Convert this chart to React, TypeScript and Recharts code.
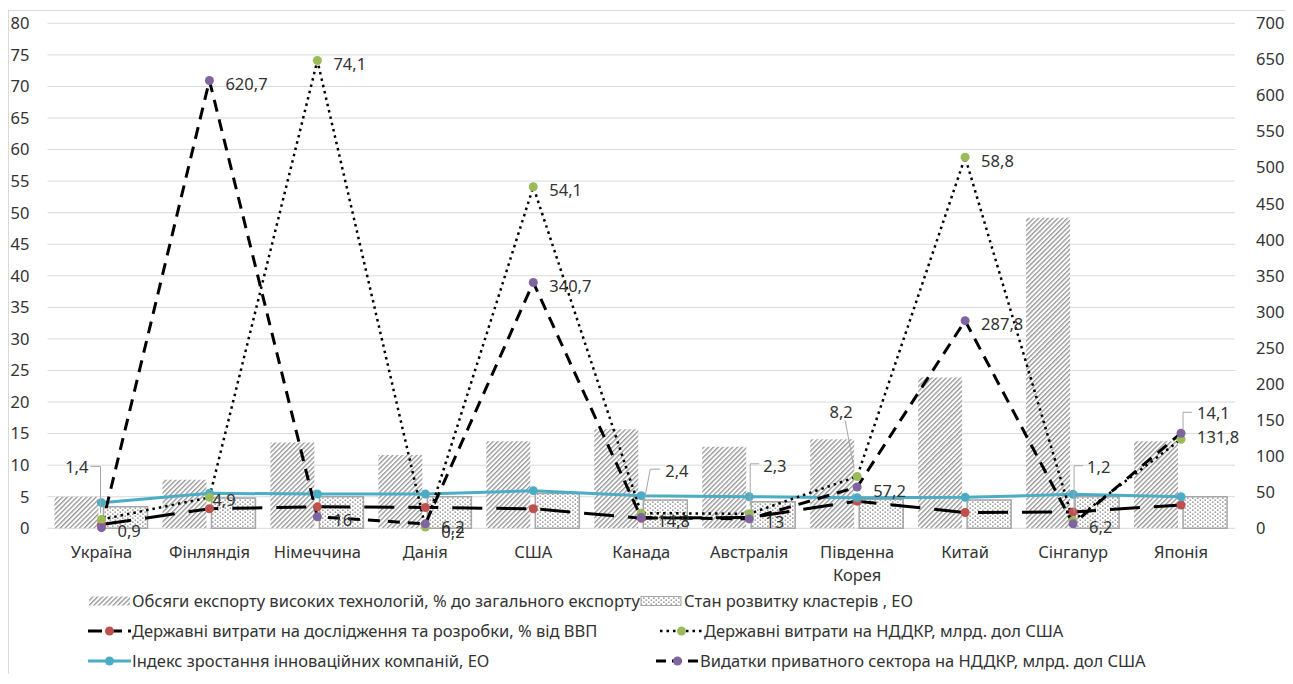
import React from 'react';
import { ComposedChart, Bar, Line, XAxis, YAxis, CartesianGrid, LabelList, Legend, Text } from 'recharts';

const countries = ['Україна', 'Фінляндія', 'Німеччина', 'Данія', 'США', 'Канада', 'Австралія', 'Південна Корея', 'Китай', 'Сінгапур', 'Японія'];
const hiTechExport = [5.0, 7.7, 13.6, 11.6, 13.8, 15.7, 12.9, 14.1, 23.9, 49.2, 13.8];
const clusterState = [3.4, 4.8, 5.0, 5.0, 5.5, 4.5, 4.2, 4.6, 4.5, 5.0, 5.0];
const govRdShare = [0.6, 3.1, 3.4, 3.3, 3.1, 1.6, 1.7, 4.3, 2.5, 2.6, 3.7];
const govRdSpend = [1.4, 4.9, 74.1, 0.2, 54.1, 2.4, 2.3, 8.2, 58.8, 1.2, 14.1];
const innovIndex = [4.06, 5.54, 5.43, 5.43, 5.96, 5.17, 5.0, 4.85, 4.9, 5.38, 5.0];
const privateRd = [0.9, 620.7, 16, 6.2, 340.7, 14.8, 13, 57.2, 287.8, 6.2, 131.8];

const leftTicks = [0, 5, 10, 15, 20, 25, 30, 35, 40, 45, 50, 55, 60, 65, 70, 75, 80];
const rightTicks = [0, 50, 100, 150, 200, 250, 300, 350, 400, 450, 500, 550, 600, 650, 700];

const names = {
  hiTechExport: 'Обсяги експорту високих технологій, % до загального експорту',
  clusterState: 'Стан розвитку кластерів , ЕО',
  govRdShare: 'Державні витрати на дослідження та розробки, % від ВВП',
  govRdSpend: 'Державні витрати на НДДКР, млрд. дол США',
  innovIndex: 'Індекс зростання інноваційних компаній, ЕО',
  privateRd: 'Видатки приватного сектора на НДДКР, млрд. дол США',
};

const data = countries.map((country, i) => ({
  country,
  hiTechExport: hiTechExport[i],
  clusterState: clusterState[i],
  govRdShare: govRdShare[i],
  govRdSpend: govRdSpend[i],
  innovIndex: innovIndex[i],
  privateRd: privateRd[i],
}));

const FONT = '"Noto Sans", sans-serif';
const FS = 16.5;
const TXT = '#333333';
const RED = '#C0504D';
const GREEN = '#9BBB59';
const CYAN = '#4BACC6';
const PURPLE = '#8064A2';
const DASH_RED = '30 14';
const DASH_PURPLE = '12 8';
const DASH_GREEN = '2.5 4';

const fmt = (v: number) => String(v).replace('.', ',');

type Leader = { dx: number; dy: number; anchor: 'start' | 'middle' | 'end'; path?: number[][] };
const defaultLeader: Leader = { dx: 16, dy: 3, anchor: 'start' };
const greenLeaders: Record<number, Leader> = {
  0: { dx: -13, dy: -53, anchor: 'end', path: [[-11, -53], [-1, -53], [-1, -6]] },
  1: { dx: 3, dy: 2, anchor: 'start' },
  3: { dx: 16, dy: 4, anchor: 'start' },
  5: { dx: 24, dy: -43, anchor: 'start', path: [[19, -44], [9, -44], [2, -7]] },
  6: { dx: 14, dy: -48, anchor: 'start', path: [[10, -50], [1, -50], [1, -8]] },
  7: { dx: -16, dy: -65, anchor: 'middle', path: [[-12, -56], [-3, -8]] },
  9: { dx: 14, dy: -54, anchor: 'start', path: [[10, -55], [1, -55], [1, -8]] },
  10: { dx: 16, dy: -27, anchor: 'start', path: [[11, -27], [2, -27], [2, -9]] },
};
const purpleLeaders: Record<number, Leader> = {};

function makeLabel(leaders: Record<number, Leader>, values: number[]) {
  return (props: any) => {
    const x = props.x ?? props.viewBox?.x;
    const y = props.y ?? props.viewBox?.y;
    const value = props.value;
    let index = props.index;
    if (index === undefined || index === null) index = values.indexOf(Number(value));
    if (x === undefined || y === undefined) return null;
    const L = leaders[index] ?? defaultLeader;
    return (
      <g>
        {L.path && (
          <polyline
            points={L.path.map(([px, py]) => `${x + px},${y + py}`).join(' ')}
            fill="none"
            stroke="#a6a6a6"
            strokeWidth={1}
          />
        )}
        <text
          x={x + L.dx}
          y={y + L.dy}
          textAnchor={L.anchor}
          dominantBaseline="central"
          fontFamily={FONT}
          fontSize={FS}
          fill={TXT}
        >
          {fmt(Number(value))}
        </text>
      </g>
    );
  };
}

const makeDot = (color: string) => (p: any) => (
  <circle key={`d-${p.index}`} cx={p.cx} cy={p.cy} r={4.5} fill={color} stroke="none" />
);

const XTick = (props: any) => {
  const { x, y, payload } = props;
  return (
    <Text
      x={x}
      y={y}
      width={100}
      textAnchor="middle"
      verticalAnchor="start"
      lineHeight={23}
      style={{ fontFamily: FONT, fontSize: FS, fill: TXT }}
    >
      {payload.value}
    </Text>
  );
};

const LineIcon = ({ color, dash, lineColor, width }: { color: string; dash?: string; lineColor: string; width: number }) => (
  <svg width={43} height={20} style={{ display: 'block' }}>
    <line x1={0} y1={10} x2={43} y2={10} stroke={lineColor} strokeWidth={width} strokeDasharray={dash} />
    <circle cx={21.5} cy={10} r={4.5} fill={color} />
  </svg>
);

const legendItems = [
  { row: 0, x: 79, key: 'hiTechExport', icon: 'hatch' },
  { row: 0, x: 631, key: 'clusterState', icon: 'dots' },
  { row: 1, x: 79, key: 'govRdShare', icon: 'red' },
  { row: 1, x: 651, key: 'govRdSpend', icon: 'green' },
  { row: 2, x: 79, key: 'innovIndex', icon: 'cyan' },
  { row: 2, x: 647, key: 'privateRd', icon: 'purple' },
];

const renderIcon = (icon: string) => {
  if (icon === 'hatch')
    return (
      <svg width={43} height={20} style={{ display: 'block' }}>
        <rect x={1} y={5.5} width={41} height={9} fill="url(#hatchPat)" />
      </svg>
    );
  if (icon === 'dots')
    return (
      <svg width={43} height={20} style={{ display: 'block' }}>
        <rect x={1} y={5.5} width={40} height={9} fill="url(#dotPat)" stroke="#a6a6a6" strokeWidth={1} />
      </svg>
    );
  if (icon === 'red') return <LineIcon color={RED} dash="14 6" lineColor="#000" width={3} />;
  if (icon === 'green') return <LineIcon color={GREEN} dash={DASH_GREEN} lineColor="#000" width={2.5} />;
  if (icon === 'cyan') return <LineIcon color={CYAN} lineColor={CYAN} width={3} />;
  return <LineIcon color={PURPLE} dash="10 6" lineColor="#000" width={3} />;
};

const LEGEND_TOP = 565;
const rowCenters = [590, 620, 650];

const LegendContent = () => (
  <div style={{ position: 'relative', width: 1284, height: 100 }}>
    {legendItems.map((it) => (
      <div
        key={it.key}
        style={{
          position: 'absolute',
          left: it.x,
          top: rowCenters[it.row] - LEGEND_TOP - 10,
          height: 20,
          display: 'flex',
          alignItems: 'center',
          whiteSpace: 'nowrap',
          fontFamily: FONT,
          fontSize: FS,
          color: TXT,
          lineHeight: '20px',
        }}
      >
        {renderIcon(it.icon)}
        <span style={{ marginLeft: 1 }}>{(names as any)[it.key]}</span>
      </div>
    ))}
  </div>
);

export default function App() {
  return (
    <div
      style={{
        position: 'relative',
        top: 2,
        width: 1285,
        height: 666,
        boxSizing: 'border-box',
        borderTop: '1px solid #d9d9d9',
        borderLeft: '1px solid #d9d9d9',
        background: '#fff',
      }}
    >
      <ComposedChart
        width={1284}
        height={665}
        data={data}
        margin={{ top: 12.3, right: 0, left: 0, bottom: 117.7 }}
        barSize={44}
        barGap={5}
      >
        <defs>
          <pattern id="hatchPat" width={3.4} height={3.4} patternUnits="userSpaceOnUse" patternTransform="rotate(45)">
            <rect width={3.4} height={3.4} fill="#ffffff" />
            <line x1={0.7} y1={0} x2={0.7} y2={3.4} stroke="#8a8a8a" strokeWidth={1.2} />
          </pattern>
          <pattern id="dotPat" width={5} height={4} patternUnits="userSpaceOnUse">
            <rect width={5} height={4} fill="#ffffff" />
            <rect x={0.5} y={0.5} width={1.6} height={1.3} fill="#8a8a8a" />
            <rect x={3} y={2.5} width={1.6} height={1.3} fill="#8a8a8a" />
          </pattern>
        </defs>
        <CartesianGrid vertical={false} stroke="#d9d9d9" strokeWidth={1} yAxisId="left" />
        <XAxis
          dataKey="country"
          axisLine={false}
          tickLine={false}
          height={30}
          tickSize={6}
          tickMargin={12}
          interval={0}
          tick={<XTick />}
        />
        <YAxis
          yAxisId="left"
          orientation="left"
          domain={[0, 80]}
          ticks={leftTicks}
          width={38.5}
          axisLine={false}
          tickLine={false}
          tickSize={6}
          tickMargin={12}
          interval={0}
          tick={{ fill: TXT, fontSize: FS, fontFamily: FONT }}
        />
        <YAxis
          yAxisId="right"
          orientation="right"
          domain={[0, 700]}
          ticks={rightTicks}
          width={58}
          axisLine={false}
          tickLine={false}
          tickSize={6}
          tickMargin={15}
          interval={0}
          tick={{ fill: TXT, fontSize: FS, fontFamily: FONT }}
        />
        <Bar yAxisId="left" dataKey="hiTechExport" name={names.hiTechExport} fill="url(#hatchPat)" isAnimationActive={false} />
        <Bar
          yAxisId="left"
          dataKey="clusterState"
          name={names.clusterState}
          fill="url(#dotPat)"
          stroke="#a6a6a6"
          strokeWidth={1.5}
          isAnimationActive={false}
        />
        <Line
          yAxisId="left"
          dataKey="govRdShare"
          name={names.govRdShare}
          stroke="#000"
          strokeWidth={3}
          strokeDasharray={DASH_RED}
          dot={makeDot(RED)}
          activeDot={false}
          isAnimationActive={false}
        />
        <Line
          yAxisId="left"
          dataKey="innovIndex"
          name={names.innovIndex}
          stroke={CYAN}
          strokeWidth={3}
          dot={makeDot(CYAN)}
          activeDot={false}
          isAnimationActive={false}
        />
        <Line
          yAxisId="left"
          dataKey="govRdSpend"
          name={names.govRdSpend}
          stroke="#000"
          strokeWidth={2.5}
          strokeDasharray={DASH_GREEN}
          dot={makeDot(GREEN)}
          activeDot={false}
          isAnimationActive={false}
        >
          <LabelList dataKey="govRdSpend" content={makeLabel(greenLeaders, govRdSpend)} />
        </Line>
        <Line
          yAxisId="right"
          dataKey="privateRd"
          name={names.privateRd}
          stroke="#000"
          strokeWidth={3}
          strokeDasharray={DASH_PURPLE}
          dot={makeDot(PURPLE)}
          activeDot={false}
          isAnimationActive={false}
        >
          <LabelList dataKey="privateRd" content={makeLabel(purpleLeaders, privateRd)} />
        </Line>
        <Legend
          layout="vertical"
          align="center"
          verticalAlign="middle"
          wrapperStyle={{ position: 'absolute', left: 0, top: LEGEND_TOP, width: 1284, height: 100 }}
          content={<LegendContent />}
        />
      </ComposedChart>
    </div>
  );
}
